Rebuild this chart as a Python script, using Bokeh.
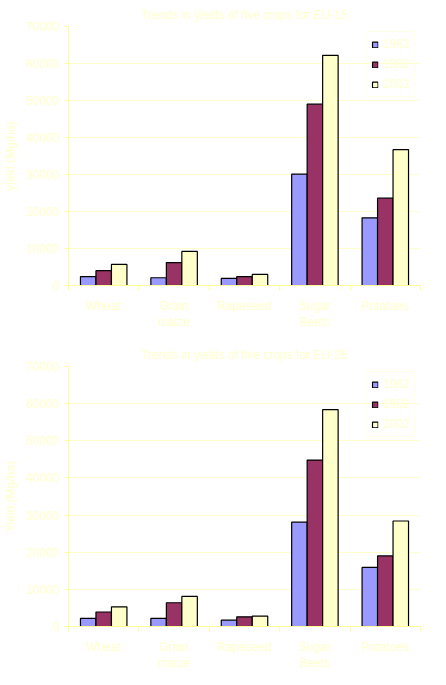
from bokeh.plotting import figure
from bokeh.layouts import column
from bokeh.models import ColumnDataSource, FixedTicker, Legend, LegendItem, Range1d
from bokeh.embed import file_html
from bokeh.resources import INLINE

crops = ["Wheat", "Grain\nmaize", "Rapeseed", "Sugar\nBeets", "Potatoes"]
years = ["1962", "1982", "2002"]
colors = ["#9999FF", "#993366", "#FFFFCC"]

eu15 = {
    "1962": [2400, 2100, 1900, 30100, 18300],
    "1982": [4000, 6200, 2400, 49000, 23600],
    "2002": [5700, 9200, 3000, 62200, 36700],
}
eu25 = {
    "1962": [2200, 2200, 1700, 28100, 15900],
    "1982": [3900, 6400, 2600, 44800, 19000],
    "2002": [5300, 8100, 2800, 58400, 28400],
}

TXT = "#FFFFCC"
FONT = "Liberation Sans"


def make_chart(title, ylabel, data, height, top, bottom):
    p = figure(width=430, height=height, output_backend="svg", toolbar_location=None,
               x_range=Range1d(0.5, 5.5), y_range=Range1d(0, 70000),
               min_border_left=68, min_border_right=10, min_border_top=top,
               min_border_bottom=bottom)
    p.title.text = title
    p.title.align = "center"
    p.title.text_color = TXT
    p.title.text_font = FONT
    p.title.text_font_size = "12px"
    p.title.text_font_style = "normal"
    p.outline_line_color = None
    xs = list(range(1, len(crops) + 1))
    items = []
    for i, y in enumerate(years):
        src = ColumnDataSource(dict(x=[x + (i - 1) * 0.22 for x in xs], top=data[y]))
        r = p.vbar(x="x", top="top", width=0.22, source=src, fill_color=colors[i],
                   line_color="black", line_width=1.2)
        items.append(LegendItem(label=y, renderers=[r]))
    p.xaxis.ticker = FixedTicker(ticks=xs, minor_ticks=[x + 0.5 for x in range(0, 6)])
    p.xaxis.major_label_overrides = {x: c for x, c in zip(xs, crops)}
    p.xaxis.major_tick_out = 0
    p.xaxis.major_tick_in = 0
    p.xaxis.minor_tick_out = 5
    p.xaxis.minor_tick_in = 0
    p.xaxis.minor_tick_line_color = "#FFFF99"
    p.xaxis.major_label_standoff = 8
    p.yaxis.ticker = FixedTicker(ticks=list(range(0, 70001, 10000)))
    p.yaxis.minor_tick_line_color = None
    p.yaxis.major_tick_out = 4
    p.yaxis.major_tick_in = 0
    p.yaxis.axis_label = ylabel
    for ax in (p.xaxis, p.yaxis):
        ax.axis_line_color = "#FFFF99"
        ax.major_tick_line_color = "#FFFF99"
        ax.major_label_text_color = TXT
        ax.major_label_text_font = FONT
        ax.major_label_text_font_size = "12px"
        ax.axis_label_text_color = TXT
        ax.axis_label_text_font = FONT
        ax.axis_label_text_font_size = "12px"
        ax.axis_label_text_font_style = "normal"
    p.xgrid.grid_line_color = None
    p.ygrid.grid_line_color = "#FFFFCC"
    leg = Legend(items=items, location="top_right", label_text_color=TXT,
                 label_text_font=FONT, label_text_font_size="12px",
                 border_line_color="#FFFFCC", background_fill_alpha=0,
                 glyph_width=7, glyph_height=7, label_height=16, spacing=4,
                 padding=4, margin=5)
    p.add_layout(leg)
    return p


p1 = make_chart("Trends in yields of five crops for EU-15", "yield (Mg/ha)", eu15, 340, 12, 55)
p2 = make_chart("Trends in yields of five crops for EU-25", "Yield (Mg/ha)", eu25, 333, 20, 45)
p = column(p1, p2, spacing=0)
open("out.html", "w").write(file_html(p, INLINE))
